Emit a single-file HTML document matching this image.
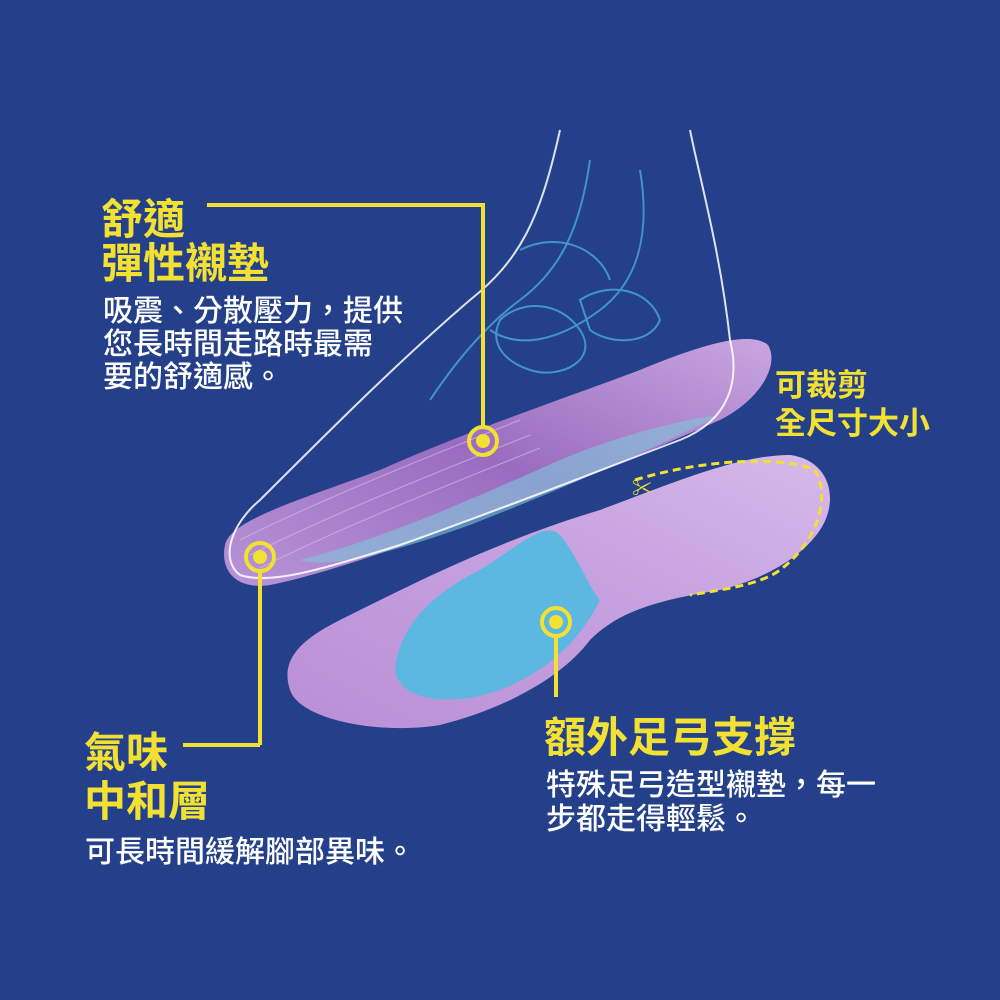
<!DOCTYPE html>
<html><head><meta charset="utf-8"><style>
html,body{margin:0;padding:0;background:#24408a;}
svg{display:block}
text{font-family:"Liberation Sans","Noto Sans CJK TC",sans-serif;font-weight:bold}
.b{font-weight:500}
</style></head><body>
<svg width="1000" height="1000" viewBox="0 0 1000 1000" xmlns="http://www.w3.org/2000/svg">
<defs>
<linearGradient id="g1" x1="0" y1="1" x2="1" y2="0">
<stop offset="0" stop-color="#b894d8"/><stop offset="0.5" stop-color="#9a6cc0"/><stop offset="1" stop-color="#c9a6e0"/></linearGradient>
<linearGradient id="g2" x1="0" y1="1" x2="1" y2="0">
<stop offset="0" stop-color="#b98fd6"/><stop offset="0.6" stop-color="#c8a3e0"/><stop offset="1" stop-color="#d6b9ea"/></linearGradient>
</defs>
<rect width="1000" height="1000" fill="#24408a"/>
<path d="M225,545 C230,520 300,500 380,470 C470,430 560,400 640,370 C700,345 750,330 768,345 C780,365 760,400 720,420 C640,455 560,490 470,520 C400,548 320,575 270,585 C235,590 220,570 225,545 Z" fill="url(#g1)"/>
<path d="M300,560 C380,540 470,500 560,460 C620,435 680,420 720,415 C650,450 560,490 470,525 C400,550 330,570 300,560 Z" fill="#7ec6d8" opacity="0.6"/>
<g stroke="#d8c4ee" stroke-width="1" fill="none" opacity="0.6">
<path d="M240,540 C320,500 420,460 520,420"/><path d="M250,555 C330,515 430,475 530,435"/><path d="M260,568 C340,528 440,488 540,448"/>
</g>
<path d="M290,690 C280,660 300,640 340,620 C420,580 500,540 600,510 C680,480 740,455 790,455 C830,460 840,500 820,530 C800,560 760,580 720,590 C660,600 620,610 590,640 C560,680 500,710 440,725 C380,735 300,720 290,690 Z" fill="url(#g2)"/>
<path d="M395,670 C400,620 440,590 480,570 C520,545 545,520 560,535 C580,560 590,590 600,600 C580,640 550,670 500,690 C460,705 400,705 395,670 Z" fill="#5cb8e0"/>
<path d="M635,480 C700,460 780,455 815,470 C830,495 820,540 780,570 C760,585 720,590 690,595" fill="none" stroke="#f2e033" stroke-width="3" stroke-dasharray="8,5"/>
<text x="632" y="495" font-size="20" fill="#f2e033">✂</text>
<g fill="none" stroke="#ffffff" stroke-width="2" opacity="0.85">
<path d="M560,130 C540,220 520,260 470,300 C400,360 330,430 260,500 C230,525 220,560 240,575 C270,585 320,570 400,545 C500,510 600,470 680,440 C730,420 740,380 730,340 C720,250 700,180 690,130"/>
</g>
<g fill="none" stroke="#4aa8e0" stroke-width="2" opacity="0.8">
<path d="M590,160 C580,230 560,270 520,300 C480,330 450,370 430,400"/>
<path d="M640,170 C650,230 640,280 600,310 C560,340 520,350 490,330"/>
<path d="M500,320 C520,300 560,300 580,330 C600,360 560,380 530,370 C500,360 490,340 500,320 Z"/>
<path d="M580,300 C610,280 650,290 660,320 C650,345 610,345 590,330 Z"/>
<path d="M520,250 C560,230 600,250 610,280"/>
</g>
<g stroke="#f2e033" stroke-width="4" fill="none">
<polyline points="207,205 483,205 483,428"/>
<circle cx="483" cy="441" r="14"/>
<line x1="260" y1="570" x2="260" y2="745"/>
<line x1="260" y1="745" x2="183" y2="745"/>
<circle cx="260" cy="557" r="14"/>
<line x1="556" y1="636" x2="556" y2="697"/>
<circle cx="556" cy="622" r="14"/>
</g>
<g fill="#f2e033"><circle cx="483" cy="441" r="7"/><circle cx="260" cy="557" r="7"/><circle cx="556" cy="622" r="7"/></g>
<g fill="#f2e033">
<text x="101" y="234" font-size="42">舒適</text>
<text x="101" y="278" font-size="42">彈性襯墊</text>
<text x="84" y="767" font-size="42">氣味</text>
<text x="84" y="816" font-size="42">中和層</text>
<text x="544" y="752" font-size="42">額外足弓支撐</text>
<text x="775" y="396" font-size="31">可裁剪</text>
<text x="775" y="434" font-size="31">全尺寸大小</text>
</g>
<g fill="#ffffff" class="b">
<text class="b" x="103" y="321" font-size="30">吸震、分散壓力，提供</text>
<text class="b" x="103" y="354" font-size="30">您長時間走路時最需</text>
<text class="b" x="103" y="387" font-size="30">要的舒適感。</text>
<text class="b" x="85" y="862" font-size="30">可長時間緩解腳部異味。</text>
<text class="b" x="546" y="795" font-size="30">特殊足弓造型襯墊，每一</text>
<text class="b" x="546" y="829" font-size="30">步都走得輕鬆。</text>
</g>
</svg>
</body></html>
